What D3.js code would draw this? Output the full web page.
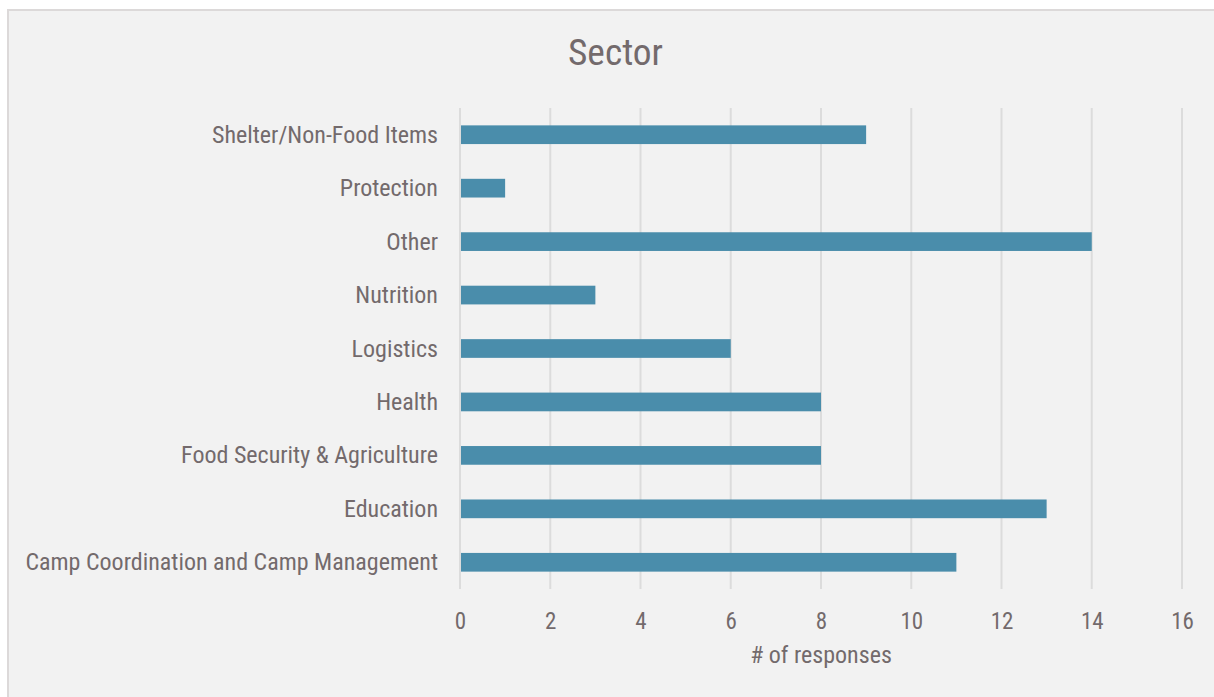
<!DOCTYPE html>
<html>
<head>
<meta charset="utf-8">
<script src="https://cdn.jsdelivr.net/npm/d3@7"></script>
<style>
  html, body { margin: 0; padding: 0; background: #ffffff; }
  svg { display: block; }
  text { font-family: "Roboto Condensed", "Roboto", sans-serif; font-stretch: condensed; font-weight: 400; fill: #736a6c; }
</style>
</head>
<body>
<svg id="chart" width="1214" height="697"></svg>
<script>
// Sector responses (listed top to bottom)
const categories = [
  "Shelter/Non-Food Items",
  "Protection",
  "Other",
  "Nutrition",
  "Logistics",
  "Health",
  "Food Security & Agriculture",
  "Education",
  "Camp Coordination and Camp Management"
];
const responses = [9, 1, 14, 3, 6, 8, 8, 13, 11];
const xTicks = [0, 2, 4, 6, 8, 10, 12, 14, 16];
const chartTitle = "Sector";
const xAxisTitle = "# of responses";

const svg = d3.select("#chart");

// chart panel
svg.append("rect")
  .attr("x", 8).attr("y", 10)
  .attr("width", 1220).attr("height", 700)
  .attr("fill", "#f2f2f2")
  .attr("stroke", "#dcd9d9")
  .attr("stroke-width", 2);

const x = d3.scaleLinear().domain([0, 16]).range([460, 1182]);
const y = d3.scaleBand().domain(categories).range([108, 589]).paddingInner(0.65).paddingOuter(0.325);

// vertical gridlines
svg.append("g")
  .selectAll("line")
  .data(xTicks)
  .join("line")
  .attr("x1", d => x(d)).attr("x2", d => x(d))
  .attr("y1", 108).attr("y2", 589)
  .attr("stroke", "#dcdcdc")
  .attr("stroke-width", 2);

// bars
svg.append("g")
  .selectAll("rect")
  .data(categories)
  .join("rect")
  .attr("x", x(0) + 1)
  .attr("y", d => y(d))
  .attr("height", y.bandwidth())
  .attr("width", (d, i) => x(responses[i]) - x(0) - 1)
  .attr("fill", "#4a8dab");

// category labels
const yAxis = d3.axisLeft(y).tickSize(0).tickPadding(0);
const gy = svg.append("g").attr("transform", "translate(438,0)").call(yAxis);
gy.select(".domain").remove();
gy.selectAll("text")
  .attr("x", 0).attr("dy", null)
  .attr("y", 8)
  .style("font-size", "24px")
  .attr("fill", "#736a6c")
  .attr("text-anchor", "end");

// value axis labels
const xAxis = d3.axisBottom(x).tickValues(xTicks).tickSize(0).tickPadding(0).tickFormat(d3.format("d"));
const gx = svg.append("g").attr("transform", "translate(0,629)").call(xAxis);
gx.select(".domain").remove();
gx.selectAll("text")
  .attr("y", 0).attr("dy", null)
  .style("font-size", "23px")
  .attr("fill", "#736a6c");

// titles
svg.append("text")
  .attr("x", 615.5).attr("y", 65)
  .attr("text-anchor", "middle")
  .style("font-size", "37.4px")
  .text(chartTitle);

svg.append("text")
  .attr("x", 821).attr("y", 663)
  .attr("text-anchor", "middle")
  .style("font-size", "24px")
  .text(xAxisTitle);
</script>
</body>
</html>
